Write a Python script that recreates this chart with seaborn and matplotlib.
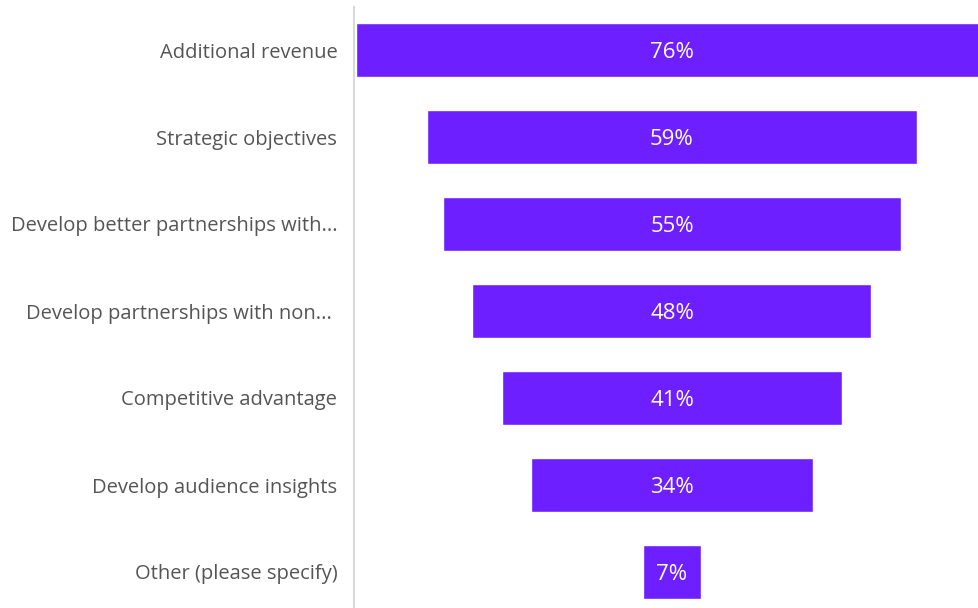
import matplotlib
matplotlib.use('Agg')
import matplotlib.pyplot as plt
import seaborn as sns
import pandas as pd

# data
categories = ['Additional revenue', 'Strategic objectives', 'Develop better partnerships with...',
              'Develop partnerships with non... ', 'Competitive advantage',
              'Develop audience insights', 'Other (please specify)']
values = [76, 59, 55, 48, 41, 34, 7]

df = pd.DataFrame({'category': categories, 'value': values})

sns.set_style('white')
plt.rcParams['font.family'] = ['Open Sans', 'DejaVu Sans']

fig = plt.figure(figsize=(9.79, 6.08), dpi=100)
ax = fig.add_axes([354 / 979, -7.5 / 608, 1 - 354 / 979 + 0.001, 609 / 608])

sns.barplot(data=df, x='value', y='category', orient='h', color='#6E1FFF',
            saturation=1, width=0.61, ax=ax)

# shift bars so the funnel is centred on zero
for p in ax.patches:
    w = p.get_width()
    p.set_x(-w / 2)
    ax.text(0, p.get_y() + p.get_height() / 2, f'{int(round(w))}%', color='white',
            ha='center', va='center_baseline', fontsize=16)

ax.set_xlim(-38.25, 37.05)
ax.set_ylim(6.5, -0.5)
ax.set_xlabel('')
ax.set_ylabel('')
ax.set_xticks([])
ax.tick_params(axis='y', length=0, pad=12, labelsize=14.5, labelcolor='#555555')
for s in ['top', 'right', 'bottom']:
    ax.spines[s].set_visible(False)
ax.spines['left'].set_color('#d9d9d9')
ax.spines['left'].set_linewidth(1.5)

fig.savefig('out.png', dpi=100)
